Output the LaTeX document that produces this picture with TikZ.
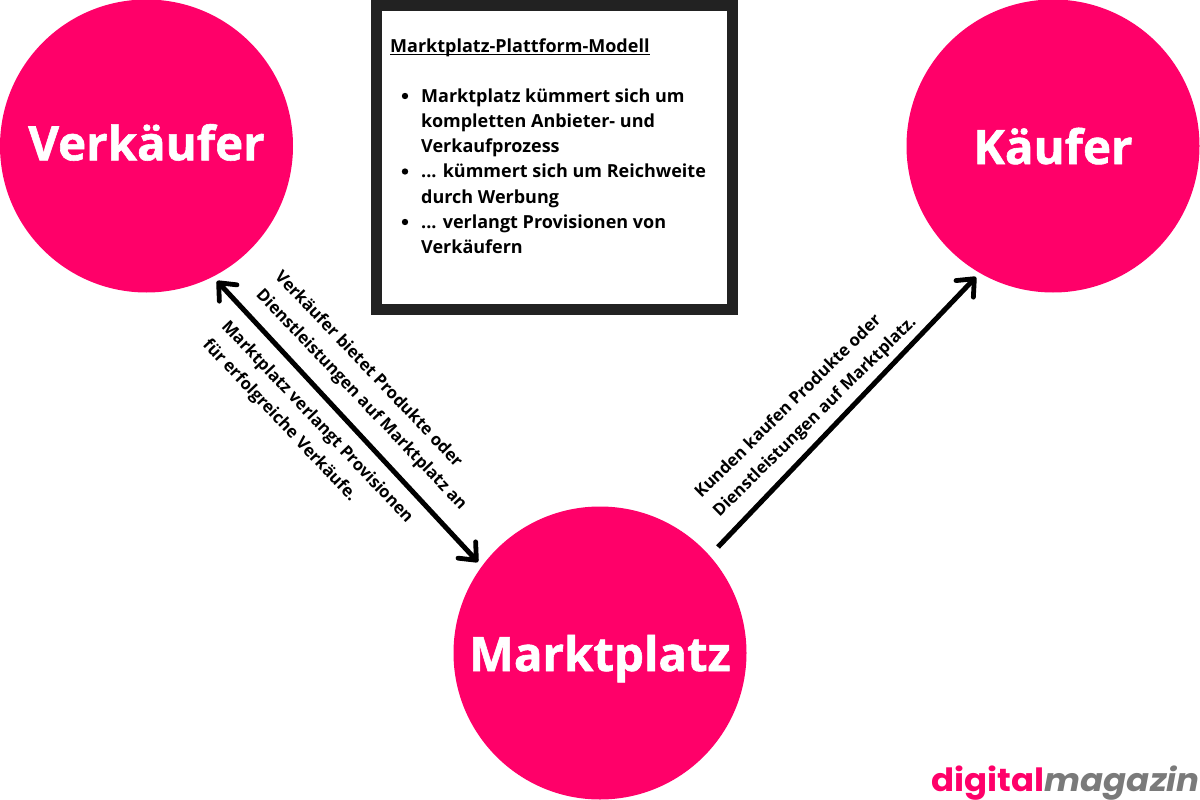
\documentclass[tikz,border=0pt]{standalone}
\usepackage{fontspec}
\setmainfont{Open Sans}
\newfontfamily\heavyfont[BoldFeatures={FakeBold=1.2}]{Open Sans}
\newfontfamily\logofont{Poppins}
\usetikzlibrary{arrows.meta}
\definecolor{pinkc}{HTML}{FF0069}
\definecolor{greyc}{HTML}{7A7A7A}
\definecolor{framec}{HTML}{222222}
\tikzset{
  x=1pt,y=-1pt,
  party/.style={circle,fill=pinkc,minimum size=293pt,inner sep=0pt,font=\heavyfont\bfseries\fontsize{47.4}{50}\selectfont,text=white},
  barb/.tip={Straight Barb[length=14pt,width=24pt,line width=4.8pt,round]},
  flow/.style={line width=5pt,draw=black,-barb},
  twoway/.style={line width=5pt,draw=black,barb-barb},
  lab/.style={font=\bfseries\fontsize{16.8}{26}\selectfont,align=left,inner sep=0pt,text=black},
  infobox/.style={draw=framec,line width=11pt,fill=white,minimum width=356pt,minimum height=304pt,inner sep=0pt},
  bodyline/.style={anchor=base west,inner sep=0pt,font=\bfseries\fontsize{18}{25}\selectfont}
}
\begin{document}
\begin{tikzpicture}
\useasboundingbox (0,0) rectangle (1200,800);
\fill[white] (0,0) rectangle (1200,800);
\node[party] (v) at (146.5,146) {\raisebox{-14.3pt}[0pt][0pt]{Verkäufer}};
\node[party] (k) at (1053,146) {\raisebox{-18pt}[0pt][0pt]{Käufer}};
\node[party] (m) at (600,653) {\raisebox{-18pt}[0pt][0pt]{Marktplatz}};
\node[infobox] (box) at (554,157.5) {};
\node[bodyline] (title) at (390,52.4) {Marktplatz-Plattform-Modell};
\draw[line width=1.5pt] (title.base west)+(0,2.3) -- ([yshift=-2.3pt]title.base east);
\coordinate (a1) at (217,281);
\coordinate (a2) at (478,562);
\coordinate (b1) at (718,547);
\coordinate (b2) at (976,277);
\draw[twoway] (a1) -- (a2);
\draw[flow] (b1) -- (b2);
\node[lab,rotate=-46.4] (l1) at (370.5,391) {Verkäufer bietet Produkte oder\\Dienstleistungen auf Marktplatz an};
\node[lab,rotate=-46.6] (l2) at (307.5,431.5) {Marktplatz verlangt Provisionen\\für erfolgreiche Verkäufe.};
\node[lab,rotate=44.5] (l3) at (806,408) {Kunden kaufen Produkte oder\\Dienstleistungen auf Marktplatz.};
\foreach \y/\t in {102.4/{Marktplatz kümmert sich um},127.4/{kompletten Anbieter- und},152.4/{Verkaufprozess},177.4/{... kümmert sich um Reichweite},203/{durch Werbung},228/{... verlangt Provisionen von},253/{Verkäufern}}{
  \node[bodyline] at (421,\y) {\t};
}
\foreach \y in {96,171.5,222}{\fill (405,\y) circle (3.2pt);}
\node[anchor=base east,inner sep=0pt,xscale=1.062,font=\logofont\bfseries\fontsize{32}{36}\selectfont] (logo) at (1200,791) {\textcolor{pinkc}{digital}\textcolor{greyc}{\itshape magazin}};
\end{tikzpicture}
\end{document}
